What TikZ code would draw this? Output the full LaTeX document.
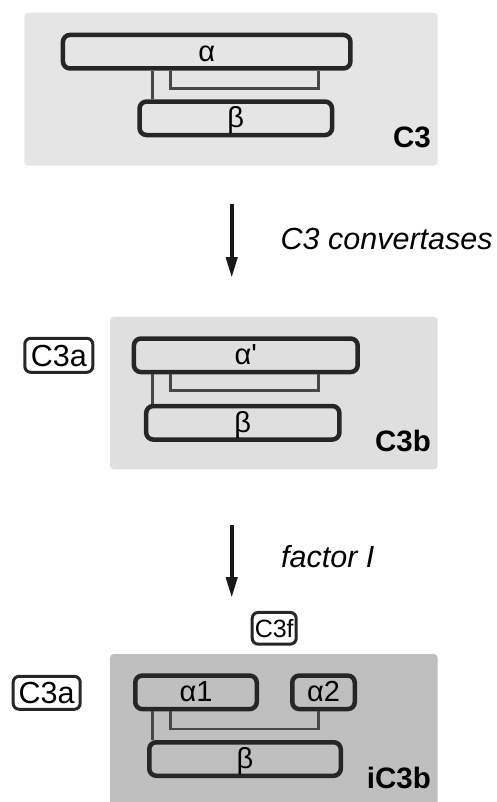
\documentclass[tikz,border=0pt]{standalone}
\usepackage{fontspec}
\setmainfont{Liberation Sans}
\usepackage{tikz}
\usetikzlibrary{arrows.meta}

\definecolor{panelA}{HTML}{E5E5E5}
\definecolor{panelB}{HTML}{DFDFDF}
\definecolor{panelC}{HTML}{BFBFBF}
\definecolor{edgegray}{HTML}{262626}
\definecolor{bondgray}{HTML}{474747}

\tikzset{
  polychain/.style={draw=edgegray, line width=4.5pt, rounded corners=7pt, inner sep=0pt,
    minimum height=33.5pt, text height=19pt, text depth=0pt, font=\fontsize{29}{32}\selectfont},
  bond/.style={draw=bondgray, line width=2.5pt},
  frag/.style={draw=edgegray, fill=white, line width=3pt, rounded corners=6pt, inner sep=0pt,
    text height=21.5pt, text depth=0pt, font=\fontsize{30.5}{34}\selectfont},
  protname/.style={anchor=base east, inner sep=0pt, font=\bfseries\fontsize{29.5}{33}\selectfont},
  enzyme/.style={anchor=base west, inner sep=0pt, font=\itshape\fontsize{30.5}{34}\selectfont},
  steparrow/.style={draw=black!90, line width=4pt, -{Triangle[width=11pt,length=21pt]}}
}

\begin{document}
\begin{tikzpicture}[x=1pt, y=-1pt]
  \useasboundingbox (0,0) rectangle (497,802);

  % C3
  \fill[panelA, rounded corners=4pt] (24.3,12.7) rectangle (437.7,165.7);
  \node[polychain, minimum width=287.5pt] (a) at (206.7,51.7) {α};
  \node[polychain, minimum width=192.5pt] (b) at (235.8,118.3) {β};
  \draw[bond] (152.7,0 |- a.south) -- (152.7,0 |- b.north);
  \draw[bond] (170.7,0 |- a.south) |- (318.3,88.3) -- (318.3,0 |- a.south);
  \node[protname] (c3) at (431,148) {C3};

  \coordinate (s1) at (231.7,204);
  \coordinate (e1) at (231.7,278);
  \draw[steparrow] (s1) -- (e1);
  \node[enzyme] (conv) at (280.5,249) {C3 convertases};

  % C3b
  \fill[panelB, rounded corners=4pt] (110,316.7) rectangle (437.7,469.3);
  \node[frag, minimum width=68pt, minimum height=34pt] (c3a) at (58.8,355.3) {C3a};
  \node[polychain, minimum width=223.8pt] (ap) at (245.8,355.3) {α\textquotesingle};
  \node[polychain, minimum width=193.2pt] (bb) at (242.8,422.8) {β};
  \draw[bond] (152.7,0 |- ap.south) -- (152.7,0 |- bb.north);
  \draw[bond] (170.7,0 |- ap.south) |- (318.3,390.7) -- (318.3,0 |- ap.south);
  \node[protname] (c3b) at (431,451.7) {C3b};

  \coordinate (s2) at (231.7,525);
  \coordinate (e2) at (231.7,598);
  \draw[steparrow] (s2) -- (e2);
  \node[enzyme] (fi) at (281,567) {factor I};

  % iC3b
  \fill[panelC, rounded corners=4pt] (110,654) rectangle (437.7,812);
  \node[frag, minimum width=44pt, minimum height=31.7pt, font=\fontsize{25}{28}\selectfont, text height=18pt] (c3f) at (274.2,628.3) {C3f};
  \node[frag, minimum width=67pt, minimum height=33pt] (c3a2) at (46.7,692.8) {C3a};
  \node[polychain, minimum width=121.5pt] (a1) at (196,692.3) {α1};
  \node[polychain, minimum width=62.5pt] (a2) at (323.5,692.3) {α2};
  \node[polychain, minimum width=191.5pt] (bi) at (245,759) {β};
  \draw[bond] (152.7,0 |- a1.south) -- (152.7,0 |- bi.north);
  \draw[bond] (170.7,0 |- a1.south) |- (318.3,729) -- (318.3,0 |- a2.south);
  \node[protname] (ic3b) at (431,788) {iC3b};
\end{tikzpicture}
\end{document}
